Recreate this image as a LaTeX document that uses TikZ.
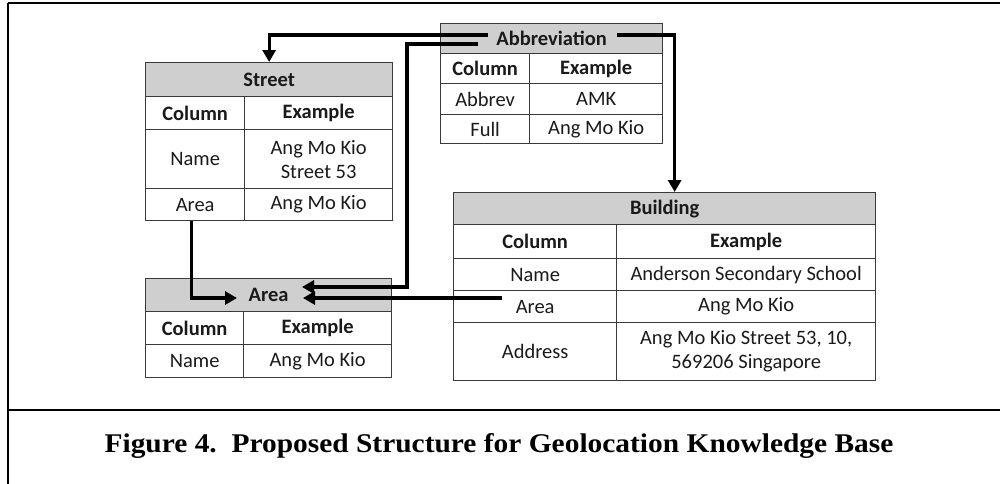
\documentclass[tikz,border=0pt]{standalone}
\usepackage{fontspec}
\usepackage{graphicx}
\setmainfont{Carlito}
\newfontfamily\capfont{Liberation Serif}
\usetikzlibrary{arrows.meta,calc}
\definecolor{hdr}{HTML}{CFCFCF}
\definecolor{tline}{HTML}{3A3A3A}
\definecolor{ttext}{HTML}{1A1A1A}
\tikzset{
  cell/.style={draw=tline,line width=1.3pt,inner sep=0pt,anchor=north west,align=center,
     font=\fontsize{20.5}{24}\selectfont,text=ttext},
  hcell/.style={cell,fill=hdr,font=\fontsize{20.5}{24}\selectfont\bfseries},
  bcell/.style={cell,font=\fontsize{20.5}{24}\selectfont\bfseries},
  conn/.style={line width=3.2pt,-{Triangle[length=12pt,width=13pt]}},
  frame/.style={line width=2.5pt,black}
}
\begin{document}
\begin{tikzpicture}[x=1pt,y=-1pt]
\useasboundingbox (0,0) rectangle (1000,483);
\clip (0,0) rectangle (1000,483);
% frame
\draw[frame] (8,3) -- (1010,3);
\draw[frame] (8,3) -- (8,490);
\draw[frame] (8,410) -- (1010,410);
\node[font=\capfont\bfseries\fontsize{27}{32}\selectfont] (cap) at (499,446) {\scalebox{1.09}[1]{Figure 4.\ \ Proposed Structure for Geolocation Knowledge Base}};

% Street table
\node[hcell,minimum width=247pt,minimum height=34pt] (street) at (145,62) {Street};
\node[bcell,minimum width=99pt,minimum height=33pt] (s11) at (145,96) {Column};
\node[bcell,minimum width=148pt,minimum height=33pt] (s12) at (244,96) {Example};
\node[cell,minimum width=99pt,minimum height=59pt] (s21) at (145,129) {Name};
\node[cell,minimum width=148pt,minimum height=59pt] (s22) at (244,129) {Ang Mo Kio\\Street 53};
\node[cell,minimum width=99pt,minimum height=32pt] (streetarea) at (145,188) {Area};
\node[cell,minimum width=148pt,minimum height=32pt] (s32) at (244,188) {Ang Mo Kio};

% Abbreviation table
\node[hcell,minimum width=222pt,minimum height=30pt] (abbr) at (440,23) {Abbreviation};
\node[bcell,minimum width=89pt,minimum height=30pt] (a11) at (440,53) {Column};
\node[bcell,minimum width=133pt,minimum height=30pt] (a12) at (529,53) {Example};
\node[cell,minimum width=89pt,minimum height=31pt] (a21) at (440,83) {Abbrev};
\node[cell,minimum width=133pt,minimum height=31pt] (a22) at (529,83) {AMK};
\node[cell,minimum width=89pt,minimum height=29pt] (a31) at (440,114) {Full};
\node[cell,minimum width=133pt,minimum height=29pt] (a32) at (529,114) {Ang Mo Kio};

% Building table
\node[hcell,minimum width=422pt,minimum height=32pt] (building) at (453,192) {Building};
\node[bcell,minimum width=163pt,minimum height=34pt] (b11) at (453,224) {Column};
\node[bcell,minimum width=259pt,minimum height=34pt] (b12) at (616,224) {Example};
\node[cell,minimum width=163pt,minimum height=32pt] (b21) at (453,258) {Name};
\node[cell,minimum width=259pt,minimum height=32pt] (b22) at (616,258) {Anderson Secondary School};
\node[cell,minimum width=163pt,minimum height=32pt] (bldgarea) at (453,290) {Area};
\node[cell,minimum width=259pt,minimum height=32pt] (b32) at (616,290) {Ang Mo Kio};
\node[cell,minimum width=163pt,minimum height=58pt] (b41) at (453,322) {Address};
\node[cell,minimum width=259pt,minimum height=58pt] (b42) at (616,322) {Ang Mo Kio Street 53, 10,\\569206 Singapore};

% Area table
\node[hcell,minimum width=246pt,minimum height=33pt] (area) at (145,278) {Area};
\node[bcell,minimum width=98pt,minimum height=33pt] (r11) at (145,311) {Column};
\node[bcell,minimum width=148pt,minimum height=33pt] (r12) at (243,311) {Example};
\node[cell,minimum width=98pt,minimum height=33pt] (r21) at (145,344) {Name};
\node[cell,minimum width=148pt,minimum height=33pt] (r22) at (243,344) {Ang Mo Kio};

% connector coordinates
\coordinate (a1s) at (488,35);
\coordinate (a2s) at (478,44);
\coordinate (a2c) at (407,44);
\coordinate (a2d) at (407,287);
\coordinate (a2e) at (302,287);
\coordinate (a3e) at (237,298);
\coordinate (a4s) at (502,298);
\coordinate (a4e) at (303,298);
\coordinate (a5s) at (617,35);

\draw[conn] (a1s) -| (street.north);
\draw[conn] (a2s) -- (a2c) -- (a2d) -- (a2e);
\draw[conn] ([xshift=-4pt]streetarea.south) |- (a3e);
\draw[conn] (a4s) -- (a4e);
\draw[conn] (a5s) -| ([xshift=10pt]building.north);
\end{tikzpicture}
\end{document}
